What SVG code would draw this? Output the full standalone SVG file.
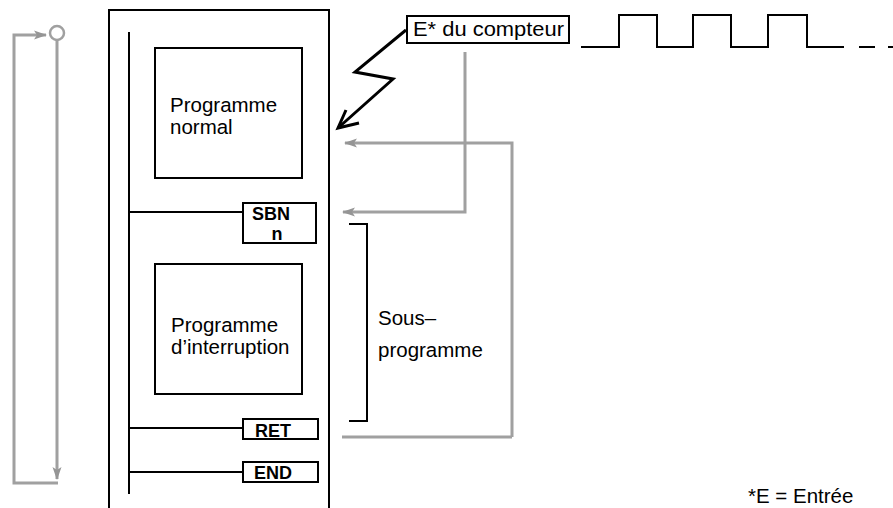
<svg xmlns="http://www.w3.org/2000/svg" width="893" height="508" viewBox="0 0 893 508">
<style>
.k{fill:none;stroke:#000;stroke-width:2}
.b{fill:#fff;stroke:#000;stroke-width:2}
.g{fill:none;stroke:#a0a0a0;stroke-width:3}
.t{font-family:"Liberation Sans",Arial,sans-serif;font-size:20.5px;fill:#000}
.c{font-family:"Liberation Sans",Arial,sans-serif;font-size:18px;font-weight:bold;fill:#000}
</style>
<defs>
<marker id="ga" markerWidth="14" markerHeight="10" refX="12" refY="5" orient="auto" markerUnits="userSpaceOnUse">
<path d="M0,0.5 L13,5 L0,9.5 L3,5 Z" fill="#959595"/>
</marker>
</defs>
<rect width="893" height="508" fill="#fff"/>

<g id="frame">
<path class="k" d="M109,508 V10 H329 V508"/>
<line class="k" x1="129" y1="32" x2="129" y2="494"/>
</g>

<g id="programme-normal">
<rect class="b" x="155" y="48" width="147" height="130"/>
<text class="t" x="170" y="112">Programme</text>
<text class="t" x="170" y="134">normal</text>
</g>

<g id="sbn">
<rect class="b" x="243" y="203" width="73" height="40"/>
<text class="c" x="252" y="220">SBN</text>
<text class="c" x="277" y="240" text-anchor="middle" font-size="17">n</text>
</g>

<g id="programme-interruption">
<rect class="b" x="155" y="264" width="147" height="130"/>
<text class="t" x="171" y="332">Programme</text>
<text class="t" x="171" y="354">d’interruption</text>
</g>

<g id="ret">
<rect class="b" x="243" y="419" width="75" height="20"/>
<text class="c" x="255" y="437">RET</text>
</g>

<g id="end">
<rect class="b" x="243" y="462" width="75" height="20"/>
<text class="c" x="254" y="479">END</text>
</g>

<g id="compteur">
<rect class="b" x="407" y="16" width="162" height="27"/>
<text class="t" x="413" y="36" textLength="151" lengthAdjust="spacingAndGlyphs">E* du compteur</text>
</g>

<g id="signal">
<path class="k" d="M581,47 H619 V15 H657 V47 H693 V15 H731 V47 H768 V15 H807 V47 H844" stroke-width="2.5"/>
<line class="k" x1="859" y1="47" x2="875" y2="47" stroke-width="2.5"/>
<line class="k" x1="888" y1="47" x2="893" y2="47" stroke-width="2.5"/>
</g>

<g id="sous-programme">
<path class="k" d="M349,224 H367 V421 H349"/>
<text class="t" x="378" y="325">Sous–</text>
<text class="t" x="378" y="357">programme</text>
</g>

<g id="note">
<text class="t" x="748" y="503" font-size="18.5">*E = Entrée</text>
</g>

<g id="connectors">
<line class="k" x1="129" y1="212" x2="243" y2="212"/>
<line class="k" x1="129" y1="428" x2="243" y2="428"/>
<line class="k" x1="129" y1="472" x2="243" y2="472"/>
<path fill="none" stroke="#000" stroke-width="3" stroke-linejoin="miter" d="M406,30 L355,72 L393,79 L338,128"/>
<path fill="none" stroke="#000" stroke-width="3" d="M346,110 L338,128 L359,123"/>
<circle cx="57" cy="33" r="7" fill="none" stroke="#a0a0a0" stroke-width="2.5"/>
<path class="g" d="M57,40 V479" marker-end="url(#ga)"/>
<path class="g" d="M58,483 H14 V35 H46" marker-end="url(#ga)"/>
<path class="g" d="M465,52 V212 H343" marker-end="url(#ga)"/>
<path class="g" d="M512,437 V143 H345" marker-end="url(#ga)"/>
<path class="g" d="M512,437 H342"/>
</g>
</svg>
